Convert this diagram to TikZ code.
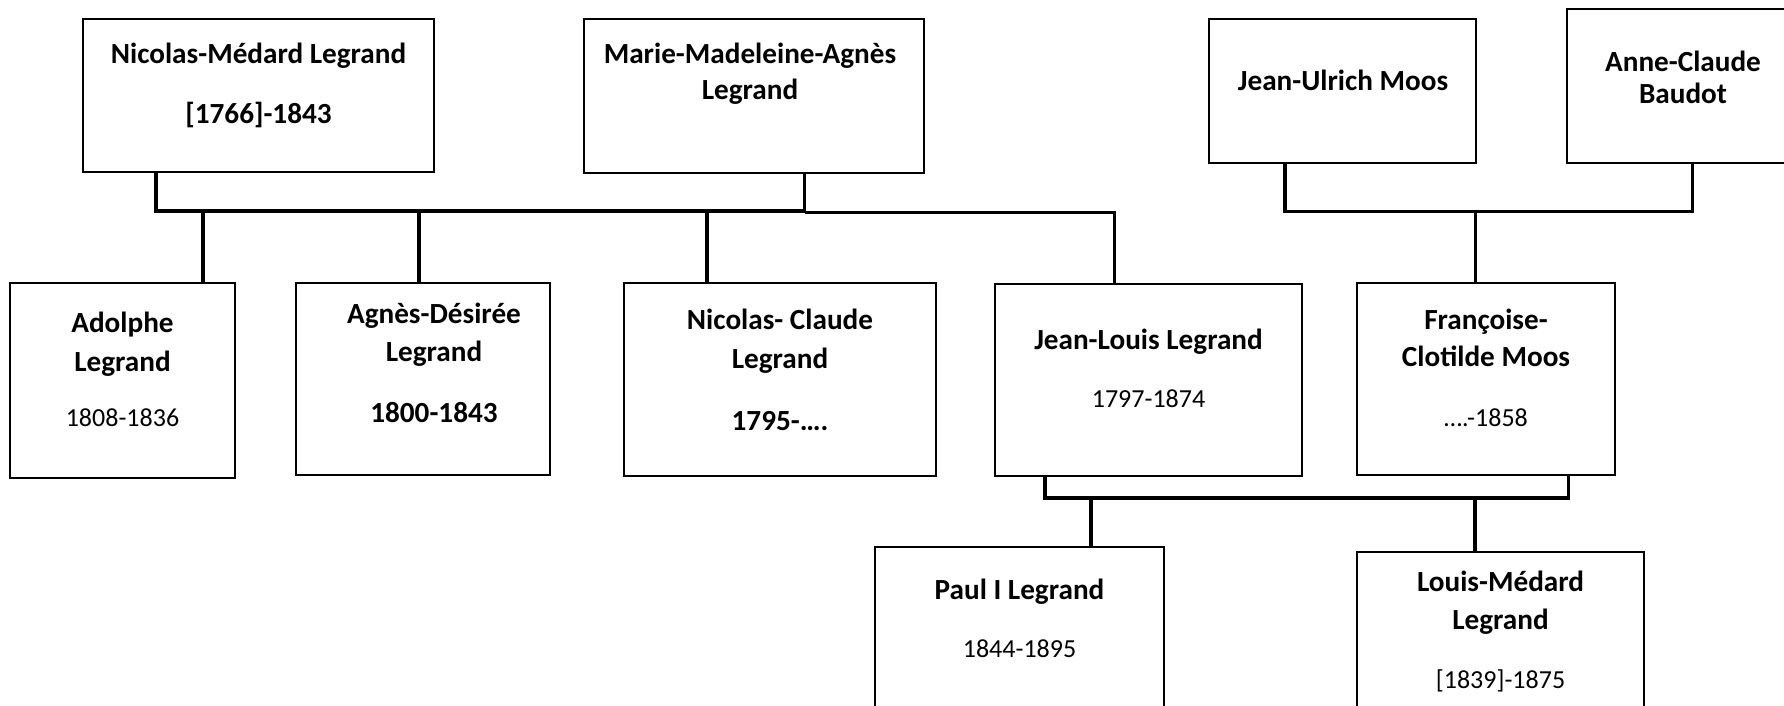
\documentclass[tikz,border=0pt]{standalone}
\usepackage{fontspec}
\setmainfont{Carlito}
\usetikzlibrary{fit}

\begin{document}
\begin{tikzpicture}[x=0.5pt, y=-0.5pt,
    box/.style={draw, line width=1pt, inner sep=0pt},
    who/.style={font=\bfseries\fontsize{14.6}{17}\selectfont, anchor=base, inner sep=0pt},
    when/.style={font=\fontsize{13}{15}\selectfont, anchor=base, inner sep=0pt},
    link/.style={line width=1.6pt}]
    \path[use as bounding box, fill=white] (0,0) rectangle (1784,706);
    \clip (0,0) rectangle (1784,706);

    % first generation
    \node (nicmed) [box, fit={(83,19) (434,172)}] {};
    \node (marie) [box, fit={(584,19) (924,173)}] {};
    \node (jeanulrich) [box, fit={(1209,19) (1476,163)}] {};
    \node (annecl) [box, fit={(1567,9) (1800,163)}] {};

    \node (nicmed-a) [who] at (258.5,64) {Nicolas-Médard Legrand};
    \node (nicmed-b) [who] at (258.5,124) {[1766]-1843};
    \node (marie-a) [who] at (750,64) {Marie-Madeleine-Agnès};
    \node (marie-b) [who] at (750,100) {Legrand};
    \node (jeanulrich-a) [who] at (1343,91) {Jean-Ulrich Moos};
    \node (annecl-a) [who] at (1683,72) {Anne-Claude};
    \node (annecl-b) [who] at (1683,104) {Baudot};

    % second generation
    \node (adolphe) [box, fit={(10,283) (235,478)}] {};
    \node (agnes) [box, fit={(296,283) (550,475)}] {};
    \node (nicclaude) [box, fit={(624,283) (936,476)}] {};
    \node (jeanlouis) [box, fit={(995,284) (1302,476)}] {};
    \node (francoise) [box, fit={(1357,283) (1615,475)}] {};

    \node (adolphe-a) [who] at (122.5,332) {Adolphe};
    \node (adolphe-b) [who] at (122.5,371) {Legrand};
    \node (adolphe-c) [when] at (122.5,426) {1808-1836};
    \node (agnes-a) [who] at (434,323) {Agnès-Désirée};
    \node (agnes-b) [who] at (434,361) {Legrand};
    \node (agnes-c) [who] at (434,422) {1800-1843};
    \node (nicclaude-a) [who] at (780,329) {Nicolas- Claude};
    \node (nicclaude-b) [who] at (780,368) {Legrand};
    \node (nicclaude-c) [who] at (780,430) {1795-….};
    \node (jeanlouis-a) [who] at (1148.5,349) {Jean-Louis Legrand};
    \node (jeanlouis-b) [when] at (1148.5,407) {1797-1874};
    \node (francoise-a) [who] at (1486,329) {Françoise-};
    \node (francoise-b) [who] at (1486,366) {Clotilde Moos};
    \node (francoise-c) [when] at (1486,426) {….-1858};

    % third generation
    \node (paul) [box, fit={(875,547) (1164,720)}] {};
    \node (louismed) [box, fit={(1357,552) (1644,720)}] {};

    \node (paul-a) [who] at (1019.5,599) {Paul I Legrand};
    \node (paul-b) [when] at (1019.5,657) {1844-1895};
    \node (louismed-a) [who] at (1500.5,591) {Louis-Médard};
    \node (louismed-b) [who] at (1500.5,629) {Legrand};
    \node (louismed-c) [when] at (1500.5,688) {[1839]-1875};

    % Legrand couple and children
    \coordinate (legL) at (156,211);
    \coordinate (legM) at (804.5,211);
    \coordinate (legR) at (1114.5,212.5);
    \coordinate (kidA) at (203,211);
    \coordinate (kidB) at (419,211);
    \coordinate (kidC) at (707,211);
    \draw[link] (legL |- nicmed.south) -- (legL) -- (legM) -- (legM |- marie.south);
    \draw[link] (legM |- legR) -- (legR) -- (legR |- jeanlouis.north);
    \draw[link] (kidA) -- (kidA |- adolphe.north);
    \draw[link] (kidB) -- (kidB |- agnes.north);
    \draw[link] (kidC) -- (kidC |- nicclaude.north);

    % Moos couple
    \coordinate (mooL) at (1285,211.7);
    \coordinate (mooM) at (1475.5,211.7);
    \coordinate (mooR) at (1692.5,211.7);
    \draw[link] (mooL |- jeanulrich.south) -- (mooL) -- (mooR) -- (mooR |- annecl.south);
    \draw[link] (mooM) -- (mooM |- francoise.north);

    % Jean-Louis and Francoise
    \coordinate (lowL) at (1045,498);
    \coordinate (lowR) at (1568.5,498);
    \coordinate (kidP) at (1091,498);
    \coordinate (kidL) at (1475,498);
    \draw[link] (lowL |- jeanlouis.south) -- (lowL) -- (lowR) -- (lowR |- francoise.south);
    \draw[link] (kidP) -- (kidP |- paul.north);
    \draw[link] (kidL) -- (kidL |- louismed.north);
\end{tikzpicture}
\end{document}
